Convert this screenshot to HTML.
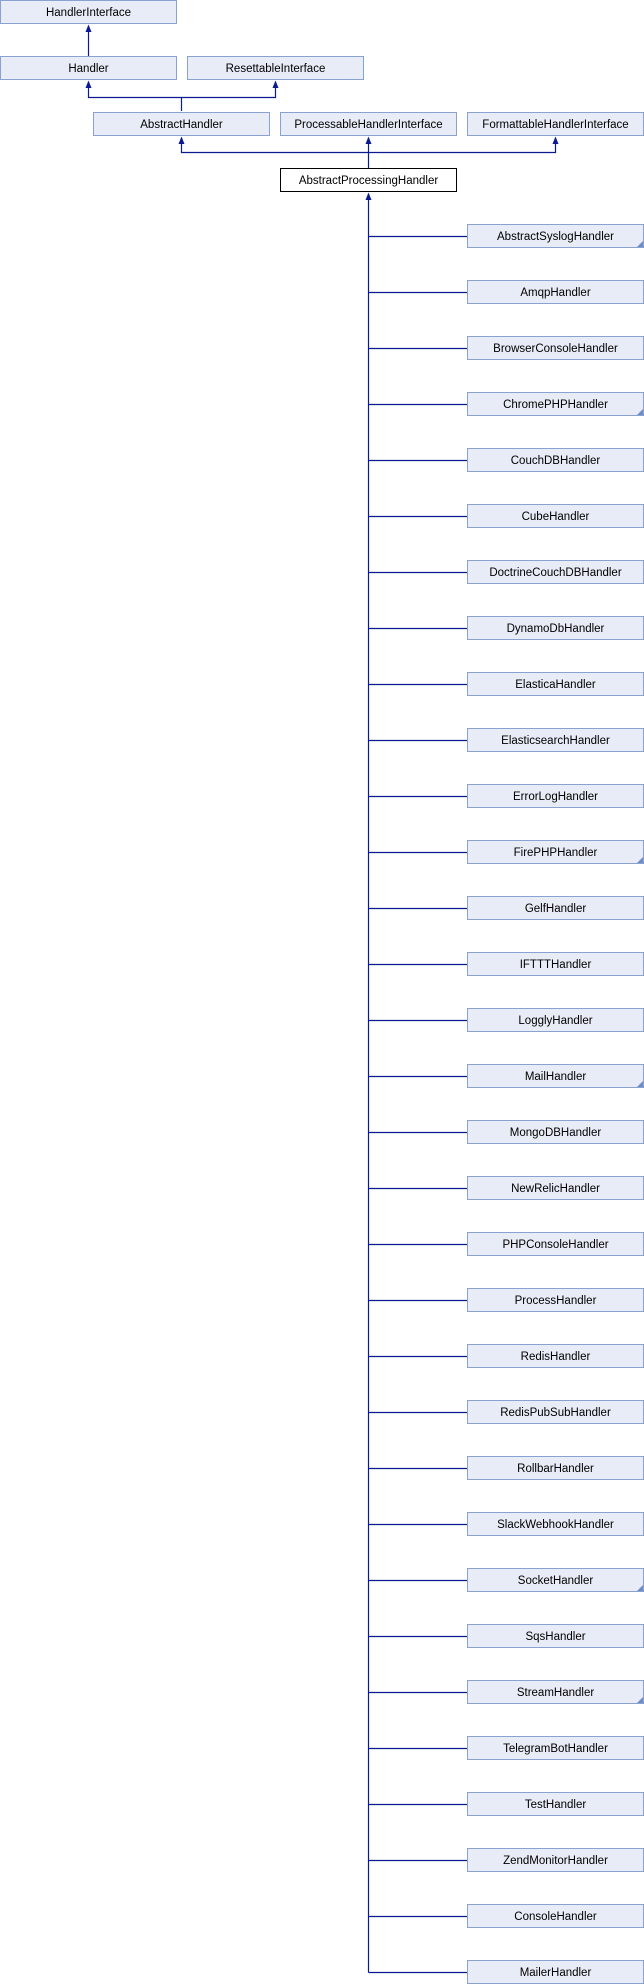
<!DOCTYPE html>
<html><head><meta charset="utf-8"><style>
html,body{margin:0;padding:0;background:#fff;}
svg{display:block;}
text{font-family:"Liberation Sans",Arial,sans-serif;font-size:11.5px;fill:#000;}
</style></head><body>
<svg width="644" height="1984" viewBox="0 0 644 1984" xmlns="http://www.w3.org/2000/svg">
<g stroke="#0b1a8f" stroke-width="1.2" fill="none">
<line x1="88.5" y1="56" x2="88.5" y2="26"/>
<polyline points="181.5,111 181.5,97.5 88.5,97.5 88.5,82"/>
<polyline points="181.5,97.5 275.5,97.5 275.5,82"/>
<line x1="368.5" y1="168" x2="368.5" y2="138"/>
<polyline points="368.5,152.5 181.5,152.5 181.5,138"/>
<polyline points="368.5,152.5 555.5,152.5 555.5,138"/>
<line x1="368.5" y1="1972.5" x2="368.5" y2="194"/>
</g>
<g fill="#0b1a8f">
<path d="M85.5,32 L88.5,24.5 L91.5,32 Z"/>
<path d="M85.5,88 L88.5,80.5 L91.5,88 Z"/>
<path d="M272.5,88 L275.5,80.5 L278.5,88 Z"/>
<path d="M178.5,144 L181.5,136.5 L184.5,144 Z"/>
<path d="M365.5,144 L368.5,136.5 L371.5,144 Z"/>
<path d="M552.5,144 L555.5,136.5 L558.5,144 Z"/>
<path d="M365.5,200 L368.5,192.5 L371.5,200 Z"/>
</g>
<g id="boxes"></g>
</svg>
<script>
(function(){
var ns="http://www.w3.org/2000/svg",g=document.getElementById("boxes");
function box(x,y,t,white,tri){
 var r=document.createElementNS(ns,"rect");
 r.setAttribute("x",x+0.5);r.setAttribute("y",y+0.5);r.setAttribute("width",176);r.setAttribute("height",23);
 r.setAttribute("fill",white?"#fff":"#e8ecf6");r.setAttribute("stroke",white?"#000":"#8aa2d2");r.setAttribute("stroke-width","1");
 g.appendChild(r);
 if(tri){var p=document.createElementNS(ns,"path");p.setAttribute("d","M"+(x+176)+","+(y+17)+" L"+(x+176)+","+(y+23)+" L"+(x+170)+","+(y+23)+" Z");p.setAttribute("fill","#6f8cc8");g.appendChild(p);}
 var s=document.createElementNS(ns,"text");s.setAttribute("x",x+88.5);s.setAttribute("y",y+16);s.setAttribute("text-anchor","middle");s.textContent=t;g.appendChild(s);
}
box(0,0,"HandlerInterface");
box(0,56,"Handler");box(187,56,"ResettableInterface");
box(93,112,"AbstractHandler");box(280,112,"ProcessableHandlerInterface");box(467,112,"FormattableHandlerInterface");
box(280,168,"AbstractProcessingHandler",true);
var c=["AbstractSyslogHandler","AmqpHandler","BrowserConsoleHandler","ChromePHPHandler","CouchDBHandler","CubeHandler","DoctrineCouchDBHandler","DynamoDbHandler","ElasticaHandler","ElasticsearchHandler","ErrorLogHandler","FirePHPHandler","GelfHandler","IFTTTHandler","LogglyHandler","MailHandler","MongoDBHandler","NewRelicHandler","PHPConsoleHandler","ProcessHandler","RedisHandler","RedisPubSubHandler","RollbarHandler","SlackWebhookHandler","SocketHandler","SqsHandler","StreamHandler","TelegramBotHandler","TestHandler","ZendMonitorHandler","ConsoleHandler","MailerHandler"];
var tri={"AbstractSyslogHandler":1,"ChromePHPHandler":1,"FirePHPHandler":1,"MailHandler":1,"SocketHandler":1,"StreamHandler":1};
for(var i=0;i<c.length;i++){
 var y=224+56*i;
 var l=document.createElementNS(ns,"line");l.setAttribute("x1",368.5);l.setAttribute("x2",467);l.setAttribute("y1",y+12.5);l.setAttribute("y2",y+12.5);l.setAttribute("stroke","#0b1a8f");l.setAttribute("stroke-width","1.2");g.appendChild(l);
 box(467,y,c[i],false,tri[c[i]]);
}
})();
</script>
</body></html>
